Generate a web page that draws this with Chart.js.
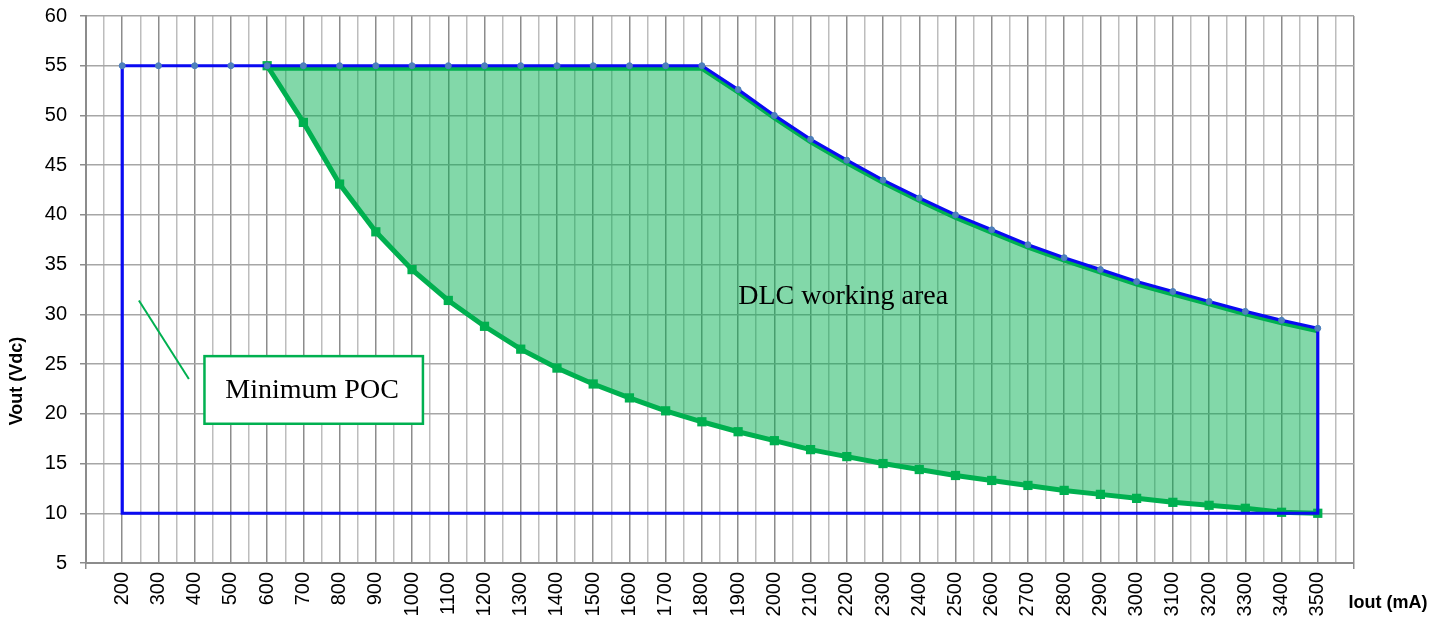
<!DOCTYPE html>
<html><head><meta charset="utf-8">
<script src="https://cdn.jsdelivr.net/npm/chart.js@4/dist/chart.umd.min.js"></script>
<style>html,body{margin:0;padding:0;background:#fff}canvas{display:block}</style>
</head><body>
<canvas id="c" width="1449" height="617"></canvas>
<script>
// ---- data ----
const currents = [200,300,400,500,600,700,800,900,1000,1100,1200,1300,1400,1500,1600,1700,1800,1900,2000,2100,2200,2300,2400,2500,2600,2700,2800,2900,3000,3100,3200,3300,3400,3500];
const maxPocVout = [55,55,55,55,55,55,55,55,55,55,55,55,55,55,55,55,55,52.6,50.0,47.6,45.5,43.5,41.7,40.0,38.5,37.0,35.7,34.5,33.3,32.3,31.3,30.3,29.4,28.6];
const dlcCurrents = [600,700,800,900,1000,1100,1200,1300,1400,1500,1600,1700,1800,1900,2000,2100,2200,2300,2400,2500,2600,2700,2800,2900,3000,3100,3200,3300,3400,3500];
const dlcUpperVout = [54.7,54.7,54.7,54.7,54.7,54.7,54.7,54.7,54.7,54.7,54.7,54.7,54.7,52.3,49.7,47.3,45.2,43.2,41.4,39.7,38.2,36.7,35.4,34.2,33.0,32.0,31.0,30.0,29.1,28.3];
const minPocVout = [55,49.3,43.1,38.3,34.5,31.4,28.8,26.5,24.6,23.0,21.6,20.3,19.2,18.2,17.3,16.4,15.7,15.0,14.4,13.8,13.3,12.8,12.3,11.9,11.5,11.1,10.8,10.5,10.1,10.0];
const outlineCurrents = [200,200,3500,3500];
const outlineVout = [55,10,10,28.6];
const xTickLabels = currents.map(String);
const yTitle = 'Vout (Vdc)';
const xTitle = 'Iout (mA)';
const dlcLabel = 'DLC working area';
const dlcLabelAt = [2190, 31.0];
const pocLabel = 'Minimum POC';
const pocBox = [427, 25.8, 1030, 19.0];
const pocLabelAt = [724, 21.6];
const pocPointer = [246, 31.4, 384, 23.5];

const pts = (xs, ys) => xs.map((x, i) => ({x: x, y: ys[i]}));

const GREEN = '#00B050';
const BLUE = '#0A0AF2';

const annot = {
  id: 'annot',
  afterDatasetsDraw(chart) {
    const ctx = chart.ctx, x = chart.scales.x, y = chart.scales.y;
    ctx.save();
    ctx.fillStyle = '#000';
    ctx.font = '28px "Liberation Serif", "Times New Roman", serif';
    ctx.textAlign = 'center';
    ctx.textBaseline = 'alphabetic';
    ctx.fillText(dlcLabel, x.getPixelForValue(dlcLabelAt[0]), y.getPixelForValue(dlcLabelAt[1]));
    ctx.strokeStyle = GREEN;
    ctx.lineWidth = 2;
    ctx.beginPath();
    ctx.moveTo(x.getPixelForValue(pocPointer[0]), y.getPixelForValue(pocPointer[1]));
    ctx.lineTo(x.getPixelForValue(pocPointer[2]), y.getPixelForValue(pocPointer[3]));
    ctx.stroke();
    const bx0 = x.getPixelForValue(pocBox[0]), bx1 = x.getPixelForValue(pocBox[2]);
    const by0 = y.getPixelForValue(pocBox[1]), by1 = y.getPixelForValue(pocBox[3]);
    ctx.fillStyle = '#fff';
    ctx.fillRect(bx0, by0, bx1 - bx0, by1 - by0);
    ctx.lineWidth = 2.5;
    ctx.strokeRect(bx0, by0, bx1 - bx0, by1 - by0);
    ctx.fillStyle = '#000';
    ctx.fillText(pocLabel, x.getPixelForValue(pocLabelAt[0]), y.getPixelForValue(pocLabelAt[1]));
    ctx.font = 'bold 18px "Liberation Sans", Arial, sans-serif';
    ctx.textBaseline = 'middle';
    ctx.fillText(xTitle, 1388, 603);
    ctx.translate(17, 381);
    ctx.rotate(-Math.PI / 2);
    ctx.fillText(yTitle, 0, 0);
    ctx.restore();
  }
};

Chart.defaults.font.family = '"Liberation Sans", Arial, sans-serif';
Chart.defaults.color = '#000';

new Chart(document.getElementById('c'), {
  type: 'line',
  data: {
    datasets: [
      {
        data: pts(currents, maxPocVout),
        borderColor: BLUE, borderWidth: 3.2,
        pointRadius: 3, pointBackgroundColor: '#4F81BD', pointBorderColor: '#4A7EBB', pointBorderWidth: 1,
        tension: 0, fill: false
      },
      {
        data: pts(outlineCurrents, outlineVout),
        borderColor: BLUE, borderWidth: 3.2, pointRadius: 0, tension: 0, fill: false
      },
      {
        data: pts(dlcCurrents, dlcUpperVout),
        borderColor: GREEN, borderWidth: 4, pointRadius: 0, tension: 0,
        fill: '+1', backgroundColor: 'rgba(0,176,80,0.49)'
      },
      {
        data: pts(dlcCurrents, minPocVout),
        borderColor: GREEN, borderWidth: 5,
        pointStyle: 'rect', pointRadius: 3, pointBackgroundColor: GREEN, pointBorderColor: GREEN,
        tension: 0, fill: false
      }
    ]
  },
  options: {
    responsive: false,
    animation: false,
    devicePixelRatio: 1,
    layout: { padding: { top: 16, right: 95, left: 0, bottom: 0 } },
    plugins: { legend: { display: false }, tooltip: { enabled: false } },
    scales: {
      x: {
        type: 'linear', min: 100, max: 3600,
        afterFit: s => { s.height = 54; },
        ticks: {
          stepSize: 50, autoSkip: false, maxRotation: 90, minRotation: 90, padding: 3,
          font: { size: 20 },
          callback: v => { const i = currents.indexOf(v); return i >= 0 ? xTickLabels[i] : ''; }
        },
        grid: {
          lineWidth: 1.5,
          color: c => (c.tick && c.tick.value % 100 === 0) ? '#8C8C8C' : '#BDBDBD',
          tickLength: 6,
          tickColor: c => (c.tick && (c.tick.value === 100 || c.tick.value === 3600)) ? '#8C8C8C' : 'rgba(0,0,0,0)'
        },
        border: { color: '#8C8C8C', width: 2 }
      },
      y: {
        min: 5, max: 60,
        afterFit: s => { s.width = 86; s.paddingTop = 10; s.paddingBottom = 0; },
        ticks: { stepSize: 5, padding: 13, font: { size: 20 } },
        grid: { lineWidth: 1.5, color: '#A6A6A6', tickLength: 6, tickColor: '#8C8C8C' },
        border: { color: '#8C8C8C', width: 2 }
      }
    }
  },
  plugins: [annot]
});
</script>
</body></html>
